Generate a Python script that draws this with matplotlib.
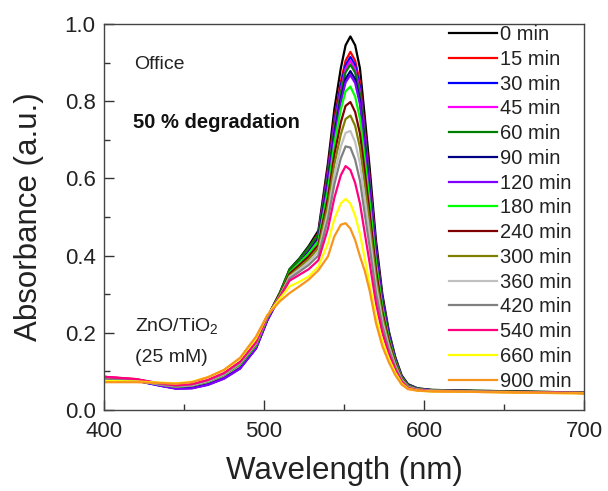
import numpy as np
import matplotlib
matplotlib.use("Agg")
import matplotlib.pyplot as plt
from matplotlib.ticker import MultipleLocator

plt.rcParams['font.family'] = ['Liberation Sans', 'DejaVu Sans']
plt.rcParams['mathtext.fontset'] = 'custom'
plt.rcParams['mathtext.rm'] = 'Liberation Sans'

# wavelength grid (nm)
wl = [400, 420, 435, 445, 455, 465, 475, 485, 495, 502, 510, 516, 522, 528,
      534, 540, 544, 548, 551, 554, 557, 560, 563, 566, 570, 574, 578, 582, 586, 590,
      596, 605, 630, 660, 700]

labels = ["0 min", "15 min", "30 min", "45 min", "60 min", "90 min", "120 min", "180 min",
          "240 min", "300 min", "360 min", "420 min", "540 min", "660 min", "900 min"]

colors = ["#000000", "#ff0000", "#0000ff", "#ff00ff", "#008000", "#000080", "#8000ff",
          "#00ff00", "#800000", "#808000", "#c0c0c0", "#808080", "#ff0080", "#ffff00", "#f7941d"]

a0 = [.082, .079, .068, .062, .065, .076, .094, .122, .172, .240, .305, .365, .392, .425,
      .465, .640, .780, .885, .945, .968, .945, .885, .760, .630, .440, .300, .205, .138, .090, .067,
      .056, .052, .050, .048, .045]
a15 = [.086, .080, .068, .061, .064, .075, .092, .120, .170, .238, .302, .362, .388, .420,
       .458, .625, .755, .850, .905, .928, .905, .848, .728, .603, .422, .290, .199, .134, .087, .065,
       .055, .051, .049, .047, .044]
a30 = [.080, .077, .064, .056, .057, .066, .082, .108, .160, .232, .297, .358, .385, .417,
       .455, .618, .745, .840, .893, .915, .893, .836, .718, .595, .417, .287, .197, .133, .087, .065,
       .055, .051, .049, .047, .044]
a45 = [.086, .079, .066, .058, .059, .068, .084, .110, .162, .234, .298, .358, .384, .415,
       .452, .610, .737, .830, .884, .905, .883, .826, .710, .588, .413, .284, .196, .132, .086, .065,
       .055, .051, .049, .047, .044]
a60 = [.081, .078, .067, .061, .064, .075, .092, .120, .170, .238, .303, .364, .390, .421,
       .455, .605, .730, .822, .875, .895, .874, .818, .704, .584, .412, .285, .198, .134, .088, .066,
       .056, .052, .050, .048, .045]
a90 = [.078, .076, .063, .056, .057, .066, .082, .108, .160, .232, .295, .354, .380, .410,
       .445, .592, .715, .806, .858, .878, .857, .802, .690, .573, .404, .280, .195, .132, .087, .065,
       .055, .051, .049, .047, .044]
a120 = [.078, .076, .063, .055, .056, .065, .081, .107, .159, .231, .294, .352, .377, .406,
        .440, .585, .707, .797, .849, .868, .847, .792, .682, .566, .400, .278, .193, .131, .086, .064,
        .055, .051, .049, .047, .044]
a180 = [.079, .077, .066, .060, .063, .073, .090, .117, .167, .238, .299, .356, .380, .406,
        .438, .570, .690, .778, .826, .838, .812, .755, .650, .540, .382, .266, .186, .127, .084, .063,
        .054, .050, .049, .047, .044]
a240 = [.080, .078, .067, .061, .064, .075, .092, .120, .170, .240, .299, .353, .375, .398,
        .428, .550, .662, .745, .788, .798, .772, .716, .617, .512, .362, .254, .179, .123, .082, .062,
        .054, .050, .049, .047, .044]
a300 = [.079, .077, .066, .061, .064, .075, .092, .120, .170, .240, .297, .348, .369, .391,
        .420, .532, .637, .714, .754, .763, .736, .680, .585, .486, .344, .243, .172, .119, .080, .061,
        .053, .050, .048, .046, .044]
a360 = [.079, .077, .066, .061, .064, .075, .092, .121, .172, .241, .296, .345, .364, .384,
        .410, .513, .610, .682, .718, .723, .694, .638, .548, .455, .324, .230, .165, .115, .078, .060,
        .053, .050, .048, .046, .044]
a420 = [.079, .077, .067, .062, .066, .077, .094, .123, .174, .242, .295, .341, .358, .376,
        .400, .495, .585, .652, .683, .680, .648, .594, .508, .423, .303, .217, .157, .111, .076, .059,
        .052, .049, .048, .046, .044]
a540 = [.086, .080, .069, .064, .067, .078, .096, .125, .176, .243, .293, .335, .350, .365,
        .388, .470, .550, .608, .632, .622, .588, .535, .458, .382, .277, .200, .146, .105, .073, .057,
        .051, .049, .047, .046, .044]
a660 = [.075, .074, .071, .069, .073, .085, .103, .133, .185, .245, .289, .320, .332, .346,
        .372, .432, .495, .535, .547, .535, .503, .456, .392, .328, .242, .178, .133, .097, .069, .055,
        .050, .048, .047, .045, .043]
a900 = [.072, .072, .070, .068, .072, .085, .104, .135, .190, .245, .282, .303, .320, .338,
        .362, .398, .450, .480, .484, .470, .440, .398, .360, .310, .225, .165, .124, .091, .066, .054,
        .050, .048, .047, .045, .043]

series = [a0, a15, a30, a45, a60, a90, a120, a180, a240, a300, a360, a420, a540, a660, a900]

fig = plt.figure(figsize=(6.08, 4.91), dpi=100)
ax = fig.add_axes([0.171, 0.165, 0.7895, 0.786])

for i in range(len(series)):
    ax.plot(wl, series[i], color=colors[i], lw=1.6, label=labels[i])

ax.set_xlim(400, 700)
ax.set_ylim(0, 1.0)
ax.xaxis.set_major_locator(MultipleLocator(100))
ax.xaxis.set_minor_locator(MultipleLocator(50))
ax.yaxis.set_major_locator(MultipleLocator(0.2))
ax.yaxis.set_minor_locator(MultipleLocator(0.1))
ax.tick_params(which='both', direction='in', colors='#333333', labelcolor='#222222')
ax.tick_params(which='major', length=7, width=1, labelsize=16)
ax.tick_params(which='minor', length=4, width=1)
ax.tick_params(axis='x', pad=8)
ax.tick_params(axis='y', pad=6)
for s in ax.spines.values():
    s.set_color('#444444')
    s.set_linewidth(1)

ax.set_xlabel("Wavelength (nm)", fontsize=22.5, color='#222222', labelpad=10)
ax.set_ylabel("Absorbance (a.u.)", fontsize=22.5, color='#222222', labelpad=15)

ax.text(0.0625, 0.894, "Office", transform=ax.transAxes, fontsize=14, va='center', color='#222222')
ax.text(0.06, 0.746, "50 % degradation", transform=ax.transAxes, fontsize=14.5, fontweight='bold',
        va='center', color='#111111')
ax.text(0.065, 0.215, r"ZnO/TiO$_\mathregular{2}$", transform=ax.transAxes, fontsize=14,
        va='center', color='#222222')
ax.text(0.065, 0.135, "(25 mM)", transform=ax.transAxes, fontsize=14, va='center', color='#222222')

leg = ax.legend(loc='upper left', bbox_to_anchor=(0.719, 0.997), frameon=False, fontsize=14.5,
                handlelength=2.39, handletextpad=0.15, labelspacing=0.285, borderpad=0, borderaxespad=0)
for t in leg.get_texts():
    t.set_color('#222222')

fig.savefig("out.png", dpi=100)
